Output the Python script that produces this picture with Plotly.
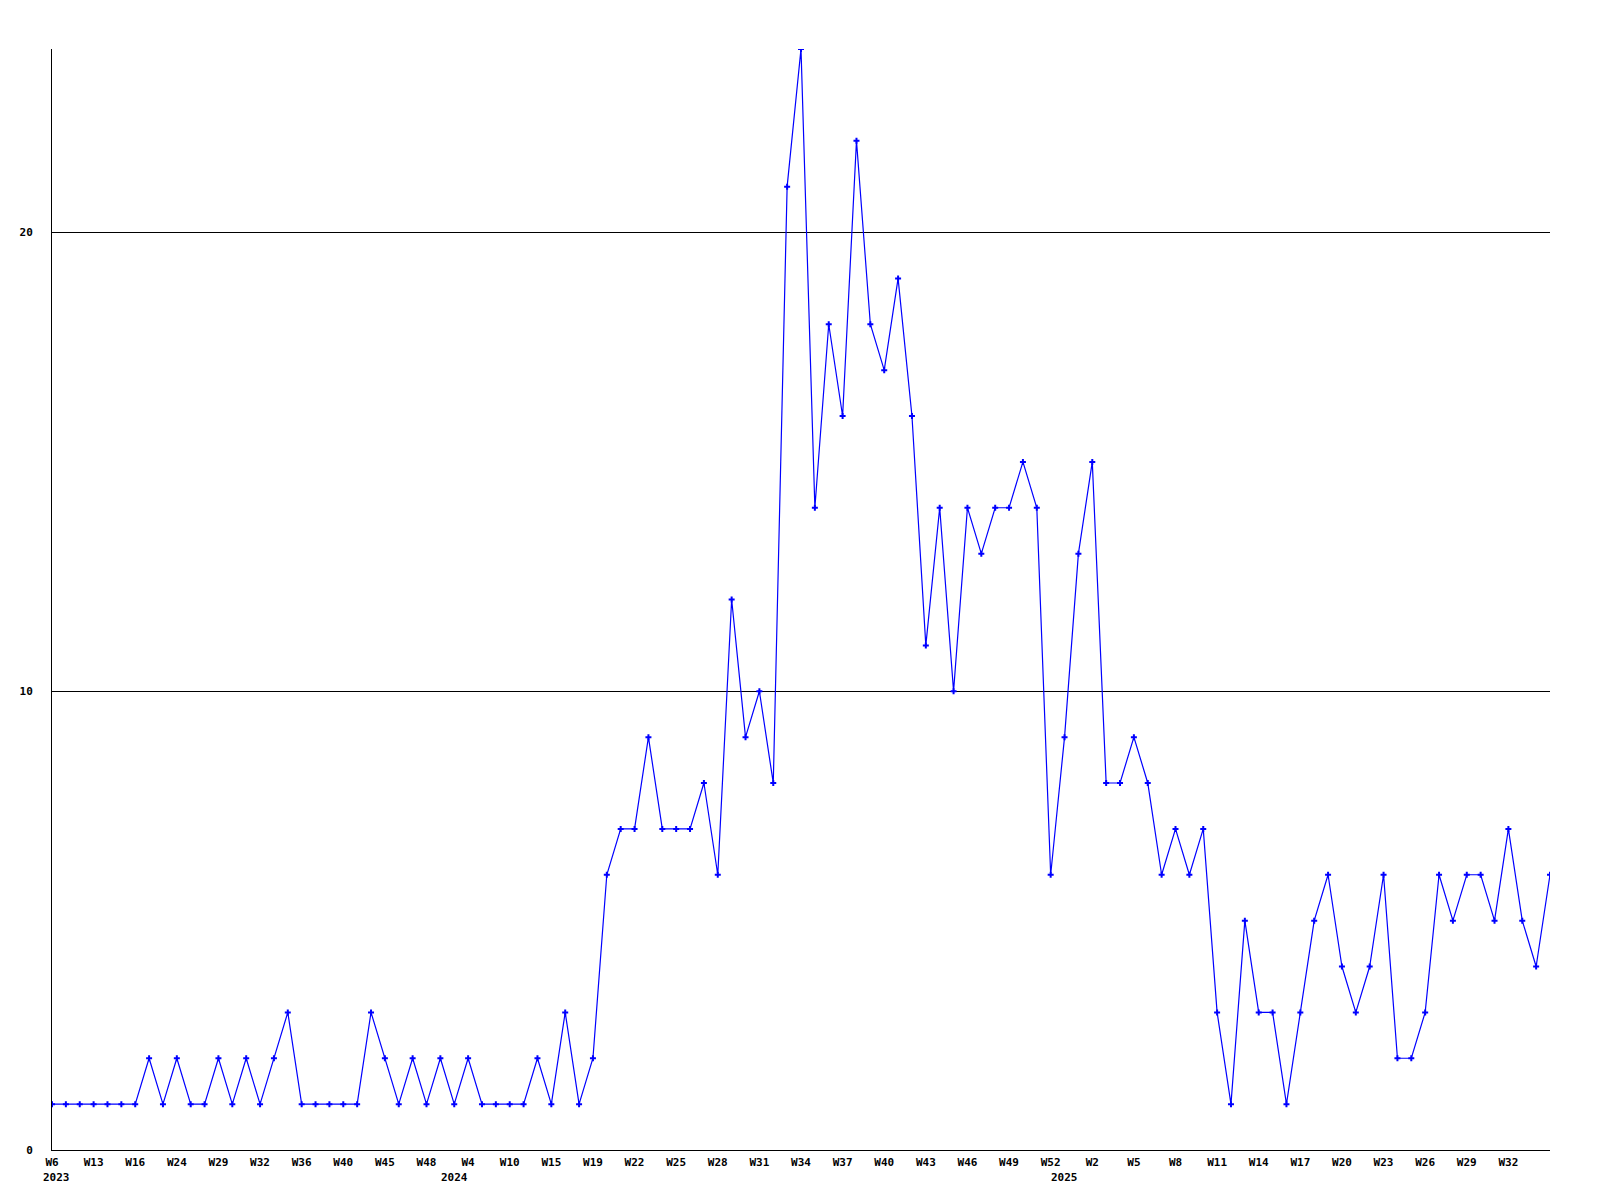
import plotly.graph_objects as go

# Week categories (one point per week with data)
weeks_2023 = ["W6", "W8", "W11", "W13", "W14", "W15", "W16", "W19", "W21", "W24",
              "W26", "W27", "W29", "W30", "W31", "W32", "W33", "W35", "W36", "W37",
              "W38", "W40", "W42", "W43", "W45", "W46", "W47", "W48", "W50"]
weeks_2024 = ["W0", "W4", "W6", "W8", "W10", "W12", "W13", "W15", "W16", "W18", "W19"] + \
             ["W%d" % w for w in range(20, 53)]
weeks_2025 = ["W%d" % w for w in range(0, 36)]

values = [1, 1, 1, 1, 1, 1, 1, 2, 1, 2,
          1, 1, 2, 1, 2, 1, 2, 3, 1, 1,
          1, 1, 1, 3, 2, 1, 2, 1, 2, 1,
          2, 1, 1, 1, 1, 2, 1, 3, 1, 2,
          6, 7, 7, 9, 7, 7, 7, 8, 6, 12,
          9, 10, 8, 21, 24, 14, 18, 16, 22, 18,
          17, 19, 16, 11, 14, 10, 14, 13, 14, 14,
          15, 14, 6, 9, 13, 15, 8, 8, 9, 8,
          6, 7, 6, 7, 3, 1, 5, 3, 3, 1,
          3, 5, 6, 4, 3, 4, 6, 2, 2, 3,
          6, 5, 6, 6, 5, 7, 5, 4, 6]

years = [("2023", weeks_2023), ("2024", weeks_2024), ("2025", weeks_2025)]
categories = []
week_names = []
year_first = []
for yr, wk in years:
    year_first.append((yr, "%s %s" % (yr, wk[0])))
    for w in wk:
        categories.append("%s %s" % (yr, w))
        week_names.append(w)

tick_step = 3
# labels every third week, the final point is not labelled
tickvals = categories[:-1][::tick_step]
ticktext = week_names[:-1][::tick_step]

font = dict(family="DejaVu Sans Mono", size=11, color="black", weight="bold")

fig = go.Figure()
fig.add_trace(go.Scatter(
    x=categories, y=values, mode="lines+markers",
    line=dict(color="#0000ff", width=1.2),
    marker=dict(symbol="cross", size=5, color="#0000ff"),
    showlegend=False, hoverinfo="x+y",
))

annotations = []
for i, (yr, cat) in enumerate(year_first):
    annotations.append(dict(
        x=cat, xref="x", y=0, yref="paper", text=yr, showarrow=False,
        xanchor="center", yanchor="middle", yshift=-27,
        xshift=4 if i == 0 else 0, font=font,
    ))

fig.update_layout(
    width=1600, height=1200,
    margin=dict(l=42, r=58, t=41, b=58),
    paper_bgcolor="white", plot_bgcolor="white",
    annotations=annotations,
    xaxis=dict(
        type="category", categoryorder="array", categoryarray=categories,
        range=[0, len(categories) - 1],
        tickmode="array", tickvals=tickvals, ticktext=ticktext,
        showgrid=False, zeroline=False,
        showline=True, linecolor="black", linewidth=1,
        ticks="", tickfont=font, ticklabelstandoff=2,
    ),
    yaxis=dict(
        range=[0, 24], tickmode="array", tickvals=[0, 10, 20],
        showgrid=True, gridcolor="black", gridwidth=1,
        zeroline=False, showline=True, linecolor="black", linewidth=1,
        ticks="", tickfont=font, ticklabelstandoff=16,
    ),
)

fig.write_html("out.html")
